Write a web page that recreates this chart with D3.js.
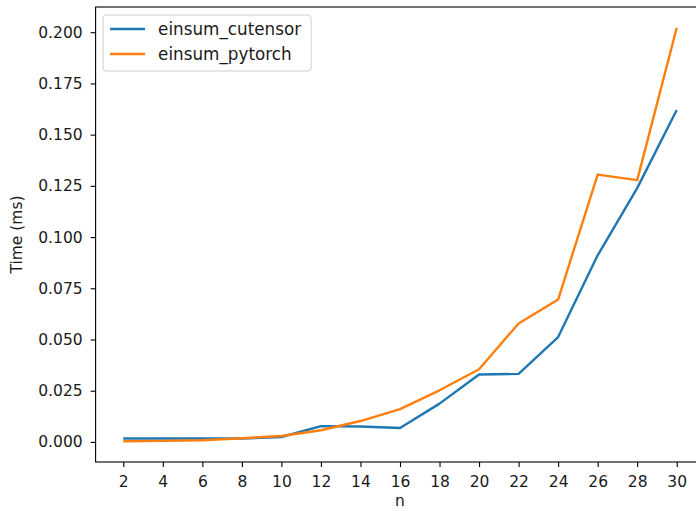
<!DOCTYPE html>
<html>
<head>
<meta charset="utf-8">
<script src="https://cdn.jsdelivr.net/npm/d3@7"></script>
<style>
  body { margin: 0; background: #fff; }
  svg { display: block; font-family: "DejaVu Sans", sans-serif; }
</style>
</head>
<body>
<div id="chart"></div>
<script>
// chart data
const nValues = [2, 4, 6, 8, 10, 12, 14, 16, 18, 20, 22, 24, 26, 28, 30];
const cutensorTimes = [0.0017, 0.0017, 0.0017, 0.0017, 0.0024, 0.0077, 0.0075, 0.0068, 0.0187, 0.0329, 0.0332, 0.0512, 0.0911, 0.1239, 0.1620];
const pytorchTimes = [0.0003, 0.0005, 0.0008, 0.0018, 0.0029, 0.0057, 0.0102, 0.0160, 0.0252, 0.0355, 0.0578, 0.0695, 0.1305, 0.1278, 0.2022];
const yTicks = [0, 0.025, 0.05, 0.075, 0.1, 0.125, 0.15, 0.175, 0.2];
const seriesNames = ["einsum_cutensor", "einsum_pytorch"];
const seriesColors = ["#1f77b4", "#ff7f0e"];

const width = 696, height = 511;
const margin = { top: 7, right: -8.4, bottom: 49, left: 95.6 };
const plotW = width - margin.left - margin.right;
const plotH = height - margin.top - margin.bottom;

const svg = d3.select("#chart").append("svg")
    .attr("width", width)
    .attr("height", height);

const g = svg.append("g")
    .attr("transform", `translate(${margin.left},${margin.top})`);

// matplotlib style 5% padding
const xPad = (d3.max(nValues) - d3.min(nValues)) * 0.05;
const x = d3.scaleLinear()
    .domain([d3.min(nValues) - xPad, d3.max(nValues) + xPad])
    .range([0, plotW]);

const allTimes = cutensorTimes.concat(pytorchTimes);
const yPad = (d3.max(allTimes) - d3.min(allTimes)) * 0.05;
const y = d3.scaleLinear()
    .domain([d3.min(allTimes) - yPad, d3.max(allTimes) + yPad])
    .range([plotH, 0]);

const xAxis = g.append("g")
    .attr("transform", `translate(0,${plotH})`)
    .call(d3.axisBottom(x).tickValues(nValues).tickFormat(d3.format("d")).tickSize(5).tickPadding(5));

const yAxis = g.append("g")
    .call(d3.axisLeft(y).tickValues(yTicks).tickFormat(d3.format(".3f")).tickSize(5).tickPadding(8));

[xAxis, yAxis].forEach(ax => {
    ax.select(".domain").remove();
    ax.selectAll("line").attr("stroke", "#000").attr("stroke-width", 1.1);
    ax.selectAll("text")
        .attr("fill", "#1a1a1a")
        .style("font-size", "15.5px")
        .style("font-family", "'DejaVu Sans', sans-serif");
});
xAxis.selectAll("text").attr("dy", "0.95em");

// frame
g.append("rect")
    .attr("x", 0).attr("y", 0)
    .attr("width", plotW).attr("height", plotH)
    .attr("fill", "none")
    .attr("stroke", "#000")
    .attr("stroke-width", 1.1);

const line = d3.line()
    .x((d, i) => x(nValues[i]))
    .y(d => y(d));

[cutensorTimes, pytorchTimes].forEach((vals, i) => {
    g.append("path")
        .datum(vals)
        .attr("fill", "none")
        .attr("stroke", seriesColors[i])
        .attr("stroke-width", 2.4)
        .attr("stroke-linejoin", "round")
        .attr("d", line);
});

// legend
const legend = g.append("g").attr("transform", "translate(7.5,8)");
legend.append("rect")
    .attr("width", 208).attr("height", 56)
    .attr("rx", 3)
    .attr("fill", "#fff")
    .attr("fill-opacity", 0.8)
    .attr("stroke", "#d0d0d0")
    .attr("stroke-width", 1);

seriesNames.forEach((name, i) => {
    const row = legend.append("g").attr("transform", `translate(0,${14 + i * 25})`);
    row.append("line")
        .attr("x1", 7).attr("x2", 42)
        .attr("stroke", seriesColors[i])
        .attr("stroke-width", 2.4);
    row.append("text")
        .attr("x", 55)
        .attr("dy", "0.35em")
        .attr("fill", "#1a1a1a")
        .style("font-size", "16.8px")
        .text(name);
});

// axis titles
svg.append("text")
    .attr("x", margin.left + x(16))
    .attr("y", 506)
    .attr("text-anchor", "middle")
    .attr("fill", "#1a1a1a")
    .style("font-size", "15.5px")
    .text("n");

svg.append("text")
    .attr("transform", `translate(21.5,${margin.top + plotH / 2}) rotate(-90)`)
    .attr("text-anchor", "middle")
    .attr("fill", "#1a1a1a")
    .style("font-size", "15.5px")
    .text("Time (ms)");
</script>
</body>
</html>
